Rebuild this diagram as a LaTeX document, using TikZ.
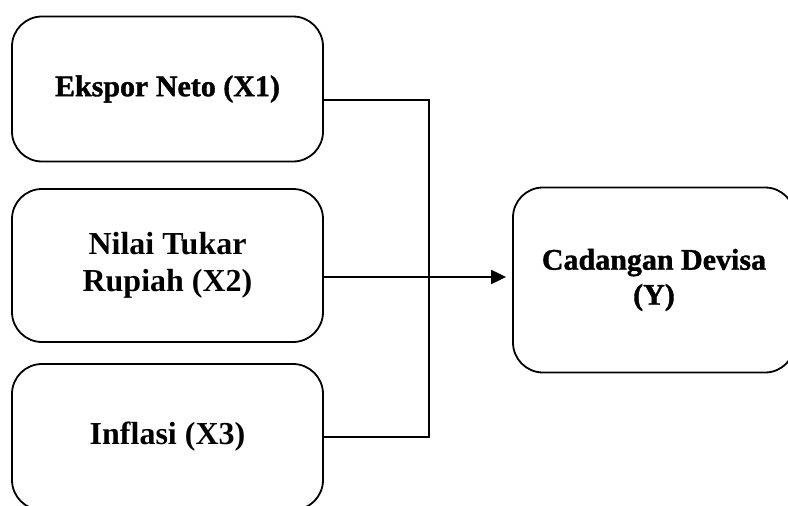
\documentclass[tikz,border=0pt]{standalone}
\usepackage{fontspec}
\setmainfont{Liberation Serif}
\newfontfamily\heavyfont[FakeBold=1.2]{Liberation Serif Bold}
\usetikzlibrary{arrows.meta}
\begin{document}
\begin{tikzpicture}[x=1pt,y=-1pt,
  varbox/.style={draw, line width=1.8pt, rounded corners=30pt, align=center,
    inner sep=0pt, font=\bfseries},
  conn/.style={line width=2pt}]
\useasboundingbox (0,0) rectangle (788,506);
\clip (0,0) rectangle (788,506);
\node[varbox, minimum width=311pt, minimum height=145pt, font=\heavyfont\bfseries\fontsize{30}{35}\selectfont]
  (x1) at (167.5,89) {Ekspor Neto (X1)};
\node[varbox, minimum width=311pt, minimum height=153pt, font=\bfseries\fontsize{32}{37}\selectfont]
  (x2) at (167.5,265.5) {Nilai Tukar\\Rupiah (X2)};
\node[varbox, minimum width=311pt, minimum height=146pt, font=\bfseries\fontsize{32}{37}\selectfont]
  (x3) at (167.5,437) {Inflasi (X3)};
\node[varbox, minimum width=282pt, minimum height=185pt, font=\heavyfont\bfseries\fontsize{30}{35}\selectfont]
  (y) at (654,280) {Cadangan Devisa\\(Y)};
\coordinate (a1) at ([yshift=-11pt]x1.east);
\coordinate (a2) at ([yshift=-11.5pt]x2.east);
\coordinate (jt) at (429,100);
\coordinate (jb) at (429,437);
\draw[conn] (a1) -- (jt) -- (jb) -- (x3.east);
\draw[conn, -{Triangle[length=15pt,width=14pt]}, shorten >=6pt] (a2) -- (y.west |- a2);
\end{tikzpicture}
\end{document}
